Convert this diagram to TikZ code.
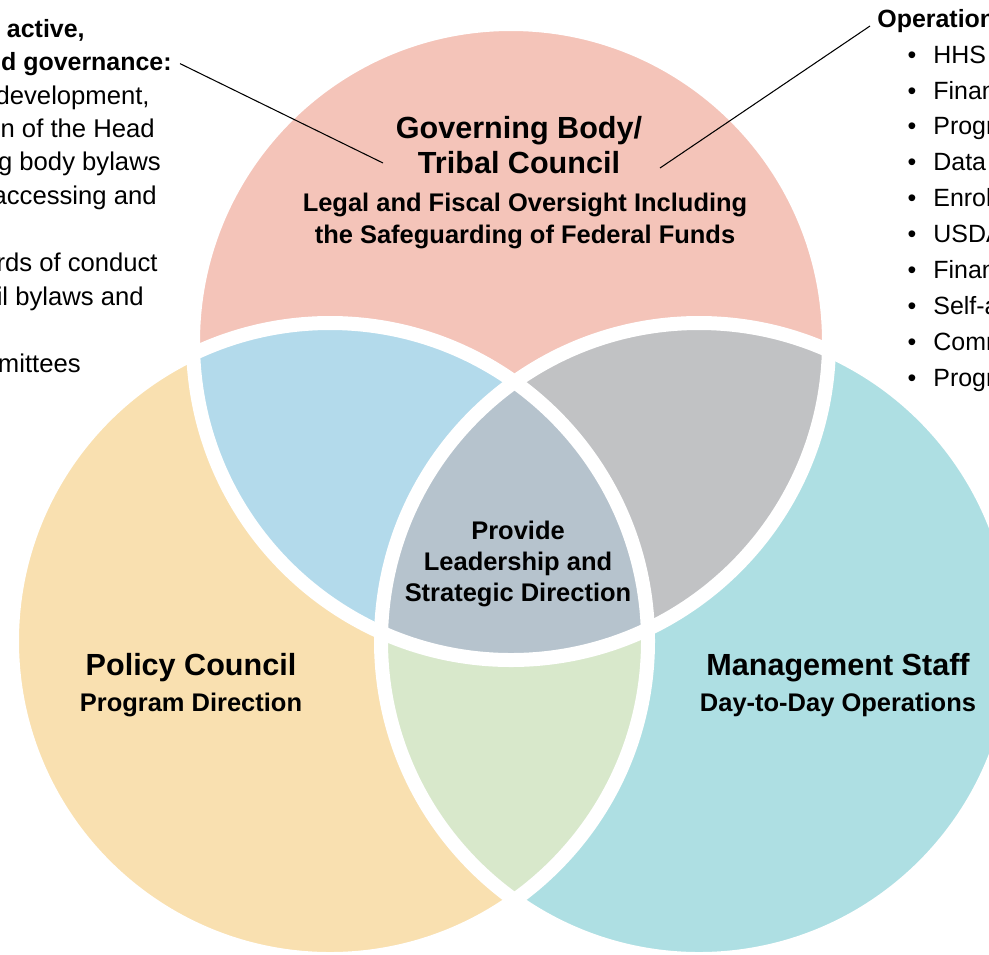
\documentclass[tikz,border=0pt]{standalone}
\usepackage{fontspec}
\setmainfont{Liberation Sans}
\usetikzlibrary{positioning}

\definecolor{gbpink}{HTML}{F4C4B9}
\definecolor{pcyellow}{HTML}{F9E0B0}
\definecolor{msteal}{HTML}{AEDFE3}
\definecolor{gbpcblue}{HTML}{B3DAEB}
\definecolor{gbmsgray}{HTML}{C1C2C4}
\definecolor{pcmsgreen}{HTML}{D8E8CB}
\definecolor{corefill}{HTML}{B6C3CD}

\begin{document}
\begin{tikzpicture}[x=0.02cm,y=-0.02cm,
	every node/.style={inner sep=0pt},
	headtxt/.style={font=\fontsize{17.4}{19.8}\selectfont\bfseries,align=center},
	subtxt/.style={font=\fontsize{14.5}{17.8}\selectfont\bfseries,align=center},
	sidetxt/.style={font=\fontsize{14.6}{17}\selectfont},
	listtxt/.style={font=\fontsize{14.2}{17}\selectfont},
	sidebold/.style={font=\fontsize{14.2}{17}\selectfont\bfseries},
	gapline/.style={draw=white,line width=0.28cm},
	leader/.style={draw=black,line width=0.6pt}]
	\useasboundingbox (0,0) rectangle (989,954);
	\clip (0,0) rectangle (989,954);

	\coordinate (T) at (511,342);
	\coordinate (L) at (330,641);
	\coordinate (R) at (699,641);

	% the three circles
	\fill[gbpink] (T) circle (318);
	\fill[pcyellow] (L) circle (318);
	\fill[msteal] (R) circle (318);

	% overlaps
	\begin{scope}
		\clip (L) circle (318);
		\fill[pcmsgreen] (R) circle (318);
	\end{scope}
	\begin{scope}
		\clip (T) circle (318);
		\fill[gbpcblue] (L) circle (318);
		\fill[gbmsgray] (R) circle (318);
		\clip (L) circle (318);
		\fill[corefill] (R) circle (318);
	\end{scope}

	\draw[gapline] (T) circle (318);
	\draw[gapline] (L) circle (318);
	\draw[gapline] (R) circle (318);

	% labels in the circles
	\node[headtxt] (gb) at (519,145) {Governing Body/\\Tribal Council};
	\node[subtxt] (gbsub) at (525,221) {Legal and Fiscal Oversight Including\\the Safeguarding of Federal Funds};
	\node[subtxt] (core) at (518,564) {Provide\\Leadership and\\Strategic Direction};
	\node[headtxt] (pc) at (191,668) {Policy Council};
	\node[subtxt] (pcsub) at (191,705) {Program Direction};
	\node[headtxt] (ms) at (838,668) {Management Staff};
	\node[subtxt] (mssub) at (838,705) {Day-to-Day Operations};

	% left list
	\node[sidebold,anchor=base east] (lhead1) at (85,37) {active,};
	\node[sidebold,anchor=base east] (lhead2) at (172,70) {d governance:};
	\node[sidetxt,anchor=base east] (l1) at (150,104) {development,};
	\node[sidetxt,anchor=base east] (l2) at (155,137) {n of the Head};
	\node[sidetxt,anchor=base east] (l3) at (161,170) {g body bylaws};
	\node[sidetxt,anchor=base east] (l4) at (157,204) {accessing and};
	\node[sidetxt,anchor=base east] (l5) at (158,271) {rds of conduct};
	\node[sidetxt,anchor=base east] (l6) at (144,305) {il bylaws and};
	\node[sidetxt,anchor=base east] (l7) at (81,372) {mittees};

	% right list
	\node[sidebold,anchor=base west] (rhead) at (877,27) {Operations};
	\node[listtxt,anchor=base] (b1) at (912,63) {•};
	\node[listtxt,anchor=base] (b2) at (912,99) {•};
	\node[listtxt,anchor=base] (b3) at (912,134) {•};
	\node[listtxt,anchor=base] (b4) at (912,170) {•};
	\node[listtxt,anchor=base] (b5) at (912,206) {•};
	\node[listtxt,anchor=base] (b6) at (912,242) {•};
	\node[listtxt,anchor=base] (b7) at (912,278) {•};
	\node[listtxt,anchor=base] (b8) at (912,314) {•};
	\node[listtxt,anchor=base] (b9) at (912,350) {•};
	\node[listtxt,anchor=base] (b10) at (912,386) {•};
	\node[listtxt,anchor=base west] (r1) at (933,63) {HHS};
	\node[listtxt,anchor=base west] (r2) at (933,99) {Finan};
	\node[listtxt,anchor=base west] (r3) at (933,134) {Progr};
	\node[listtxt,anchor=base west] (r4) at (933,170) {Data};
	\node[listtxt,anchor=base west] (r5) at (933,206) {Enrol};
	\node[listtxt,anchor=base west] (r6) at (933,242) {USDA};
	\node[listtxt,anchor=base west] (r7) at (933,278) {Finan};
	\node[listtxt,anchor=base west] (r8) at (933,314) {Self-a};
	\node[listtxt,anchor=base west] (r9) at (933,350) {Comm};
	\node[listtxt,anchor=base west] (r10) at (933,386) {Progr};

	% leader lines
	\coordinate (gbtipl) at (383,163);
	\coordinate (gbtipr) at (660,168);
	\draw[leader] ([xshift=0.16cm]lhead2.east) -- (gbtipl);
	\draw[leader] (gbtipr) -- ([xshift=-0.14cm,yshift=0.02cm]rhead.base west);
\end{tikzpicture}
\end{document}
